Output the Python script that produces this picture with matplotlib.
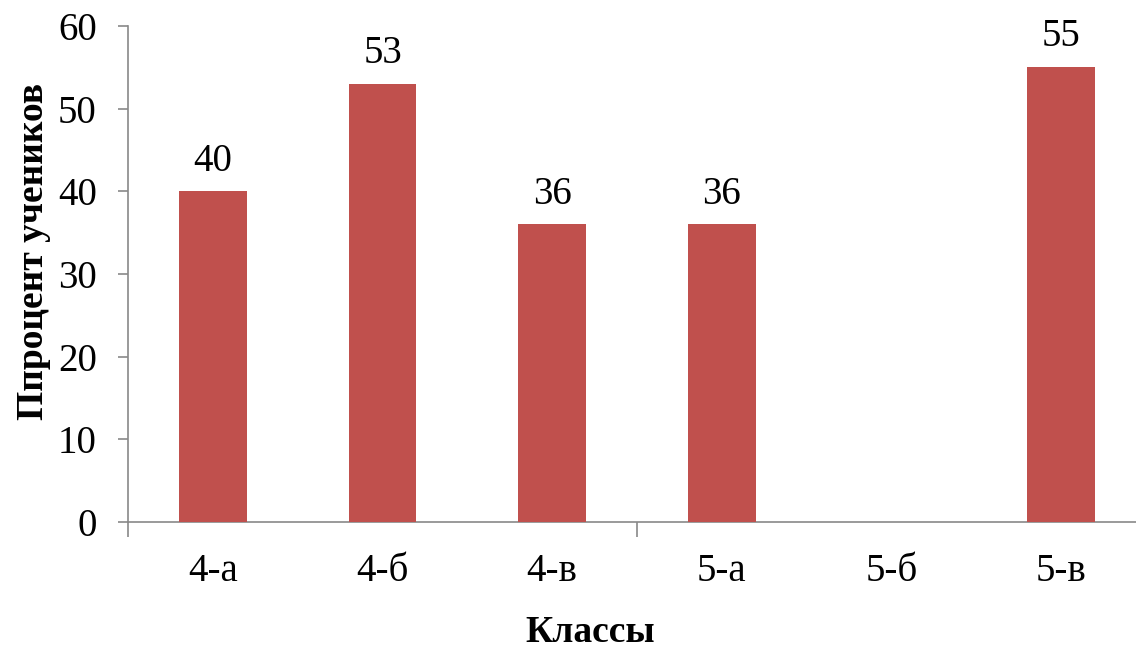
import matplotlib
matplotlib.use("Agg")
import matplotlib.pyplot as plt

categories = ["4-а", "4-б", "4-в", "5-а", "5-б", "5-в"]
values = [40, 53, 36, 36, None, 55]
y_ticks = [0, 10, 20, 30, 40, 50, 60]

plt.rcParams['font.family'] = ['Liberation Serif', 'DejaVu Serif']

W, H = 1136, 650
fig = plt.figure(figsize=(W / 100, H / 100), dpi=100)
left, right, top, bottom = 128, 1146, 26, 522
ax = fig.add_axes([left / W, 1 - bottom / H, (right - left) / W, (bottom - top) / H])

x = list(range(len(categories)))
heights = [v if v is not None else 0 for v in values]
bars = ax.bar(x, heights, width=0.4, color="#C0504D", zorder=3)
for xi, v in zip(x, values):
    if v is not None:
        ax.annotate(str(v), (xi, v), xytext=(0, 15), textcoords="offset points",
                    ha="center", va="baseline", fontsize=28, color="black")

ax.set_xlim(-0.5, len(categories) - 0.5)
ax.set_ylim(0, 60)
ax.set_yticks(y_ticks)
ax.set_yticklabels([str(t) for t in y_ticks], fontsize=28)
ax.set_xticks(x)
ax.set_xticklabels(categories, fontsize=28)
ax.tick_params(axis="x", length=0, pad=22)
ax.tick_params(axis="y", length=7.5, width=1.2, color="#898989", pad=15, direction="out")
# minor ticks at category boundaries every 3 categories
ax.set_xticks([-0.5, 2.5], minor=True)
ax.tick_params(axis="x", which="minor", length=11, width=1.2, color="#898989", direction="out")

for s in ["top", "right"]:
    ax.spines[s].set_visible(False)
for s in ["left", "bottom"]:
    ax.spines[s].set_color("#898989")
    ax.spines[s].set_linewidth(1.2)

fig.text(590 / W, 1 - 633 / H, "Классы", fontsize=27, fontweight="bold",
         ha="center", va="center")
fig.text(34 / W, 1 - 251 / H, "Ппроцент учеников", fontsize=27, fontweight="bold",
         ha="center", va="center", rotation=90)

fig.savefig("out.png", dpi=100)
